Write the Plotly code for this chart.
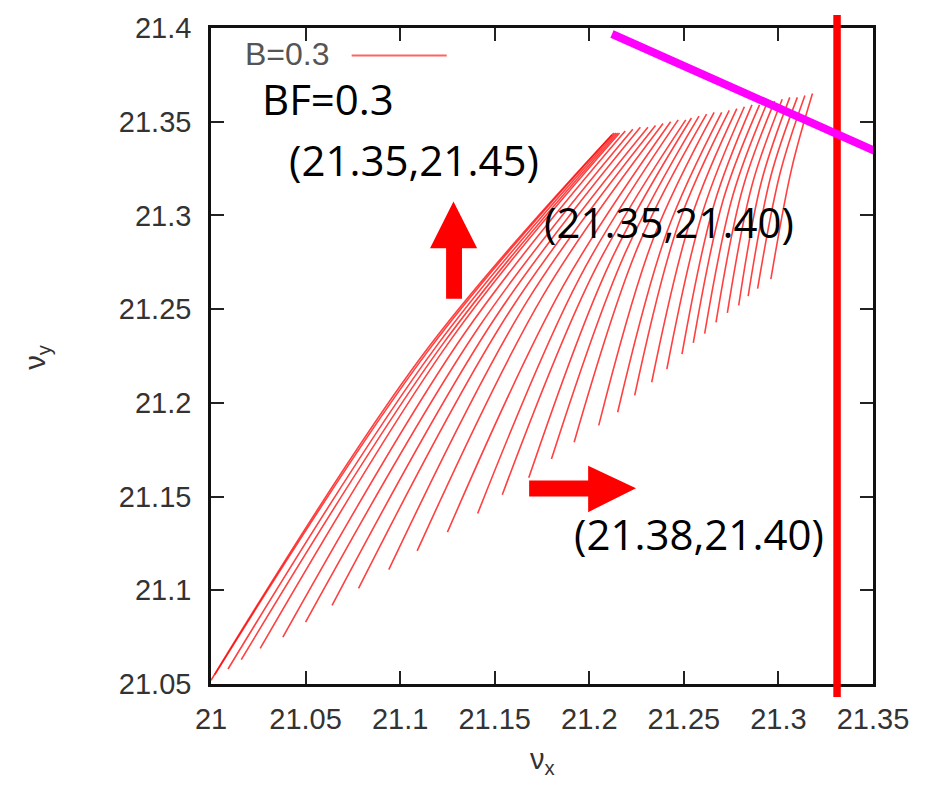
import plotly.graph_objects as go

# Tune footprint lines: each line runs from its lower end through a bend point to its upper end
bottom_x = [21.000, 21.002, 21.009, 21.016, 21.026, 21.038, 21.050, 21.064, 21.078, 21.094,
            21.109, 21.125, 21.141, 21.154, 21.168, 21.180, 21.192, 21.205, 21.215, 21.224,
            21.233, 21.241, 21.249, 21.255, 21.261, 21.267, 21.273, 21.279, 21.284, 21.289, 21.296]
bottom_y = [21.052, 21.055, 21.058, 21.063, 21.069, 21.075, 21.083, 21.092, 21.101, 21.111,
            21.121, 21.131, 21.141, 21.151, 21.160, 21.170, 21.179, 21.188, 21.195, 21.204,
            21.211, 21.218, 21.226, 21.232, 21.237, 21.243, 21.248, 21.252, 21.257, 21.261, 21.266]
bend_x = [21.113, 21.115, 21.119, 21.123, 21.127, 21.134, 21.142, 21.150, 21.158, 21.167,
          21.176, 21.186, 21.195, 21.203, 21.211, 21.219, 21.226, 21.234, 21.241, 21.247,
          21.254, 21.260, 21.266, 21.271, 21.276, 21.281, 21.286, 21.291, 21.296, 21.301, 21.307]
bend_y = [21.227, 21.228, 21.230, 21.232, 21.234, 21.237, 21.241, 21.245, 21.249, 21.254,
          21.258, 21.262, 21.267, 21.271, 21.275, 21.280, 21.284, 21.288, 21.291, 21.295,
          21.299, 21.302, 21.306, 21.309, 21.311, 21.314, 21.316, 21.318, 21.321, 21.323, 21.325]
top_x = [21.212, 21.213, 21.214, 21.215, 21.216, 21.219, 21.223, 21.227, 21.231, 21.235,
         21.239, 21.243, 21.247, 21.251, 21.254, 21.258, 21.262, 21.266, 21.270, 21.274,
         21.278, 21.282, 21.286, 21.290, 21.294, 21.298, 21.302, 21.306, 21.310, 21.314, 21.318]
top_y = [21.343, 21.344, 21.344, 21.344, 21.344, 21.345, 21.346, 21.347, 21.347, 21.348,
         21.349, 21.350, 21.351, 21.351, 21.352, 21.353, 21.354, 21.355, 21.355, 21.356,
         21.357, 21.358, 21.359, 21.359, 21.360, 21.361, 21.362, 21.363, 21.363, 21.364, 21.365]

# Resonance lines
vertical_x = 21.331
diag_x = [21.212, 21.351]
diag_y = [21.3968, 21.3344]

# Arrows: outline vertices (x, y) in data units
up_arrow_x = [21.1243, 21.1327, 21.1327, 21.1407, 21.1282, 21.1158, 21.1243]
up_arrow_y = [21.2555, 21.2555, 21.2825, 21.2825, 21.3074, 21.2825, 21.2825]
right_arrow_x = [21.1682, 21.1994, 21.1994, 21.2247, 21.1994, 21.1994, 21.1682]
right_arrow_y = [21.1586, 21.1586, 21.1665, 21.1544, 21.1417, 21.1501, 21.1501]

x_ticks = [21.0, 21.05, 21.1, 21.15, 21.2, 21.25, 21.3, 21.35]
x_tick_text = ["21", "21.05", "21.1", "21.15", "21.2", "21.25", "21.3", "21.35"]
y_ticks = [21.05, 21.1, 21.15, 21.2, 21.25, 21.3, 21.35, 21.4]
y_tick_text = ["21.05", "21.1", "21.15", "21.2", "21.25", "21.3", "21.35", "21.4"]

labels = [
    ("BF=0.3", 21.0620, 21.3624),
    ("(21.35,21.45)", 21.1074, 21.3301),
    ("(21.35,21.40)", 21.2420, 21.2965),
    ("(21.38,21.40)", 21.2580, 21.1305),
]

fig = go.Figure()

for i in range(len(bottom_x)):
    fig.add_trace(go.Scatter(
        x=[bottom_x[i], bend_x[i], top_x[i]],
        y=[bottom_y[i], bend_y[i], top_y[i]],
        mode="lines",
        line=dict(color="rgba(255,0,0,0.75)", width=1.6, shape="spline", smoothing=1.0),
        showlegend=False, hoverinfo="skip",
    ))

shapes = []
# vertical resonance line, running slightly past the frame
shapes.append(dict(type="line", xref="x", yref="paper", x0=vertical_x, x1=vertical_x,
                   y0=-0.0197, y1=1.0197, line=dict(color="#ff0000", width=7.5)))
# diagonal resonance line
shapes.append(dict(type="line", xref="x", yref="y", x0=diag_x[0], y0=diag_y[0],
                   x1=diag_x[1], y1=diag_y[1], line=dict(color="#ff00ff", width=8)))


def outline(xs, ys):
    pts = " L".join(f"{x},{y}" for x, y in zip(xs, ys))
    return "M" + pts + " Z"


for xs, ys in [(up_arrow_x, up_arrow_y), (right_arrow_x, right_arrow_y)]:
    shapes.append(dict(type="path", xref="x", yref="y", path=outline(xs, ys),
                       fillcolor="#ff0000", line=dict(width=0)))

# legend key sample
shapes.append(dict(type="line", xref="paper", yref="paper", x0=0.2125, x1=0.356,
                   y0=0.958, y1=0.958, line=dict(color="rgba(255,70,70,0.85)", width=2)))

annotations = []
annotations.append(dict(text="B=0.3", xref="paper", yref="paper", x=0.048, y=0.961,
                        xanchor="left", yanchor="middle", showarrow=False,
                        font=dict(family="Liberation Sans", size=32, color="#555555")))
for txt, lx, ly in labels:
    annotations.append(dict(text=txt, x=lx, y=ly, xref="x", yref="y", xanchor="center",
                            yanchor="middle", showarrow=False,
                            font=dict(family="Open Sans", size=42, color="#000000")))
annotations.append(dict(text="ν<sub>x</sub>", xref="paper", yref="paper", x=0.5, y=-0.118,
                        xanchor="center", yanchor="middle", showarrow=False,
                        font=dict(family="Liberation Sans", size=29, color="#333333")))
annotations.append(dict(text="ν<sub>y</sub>", xref="paper", yref="paper", x=-0.262, y=0.498,
                        xanchor="center", yanchor="middle", showarrow=False, textangle=-90,
                        font=dict(family="Liberation Sans", size=29, color="#333333")))

axis_common = dict(showline=True, linecolor="#111111", linewidth=2.5, mirror="ticks",
                   ticks="inside", ticklen=13, tickwidth=2, tickcolor="#222222",
                   showgrid=False, zeroline=False,
                   tickfont=dict(family="Liberation Sans", size=29, color="#333333"))

fig.update_layout(
    width=940, height=789,
    margin=dict(l=211, r=67, t=23, b=105),
    paper_bgcolor="white", plot_bgcolor="white",
    xaxis=dict(range=[21.0, 21.35], tickvals=x_ticks, ticktext=x_tick_text,
               ticklabelstandoff=7, **axis_common),
    yaxis=dict(range=[21.05, 21.4], tickvals=y_ticks, ticktext=y_tick_text,
               ticklabelstandoff=11, **axis_common),
    shapes=shapes, annotations=annotations, showlegend=False,
)

fig.write_html("out.html")
